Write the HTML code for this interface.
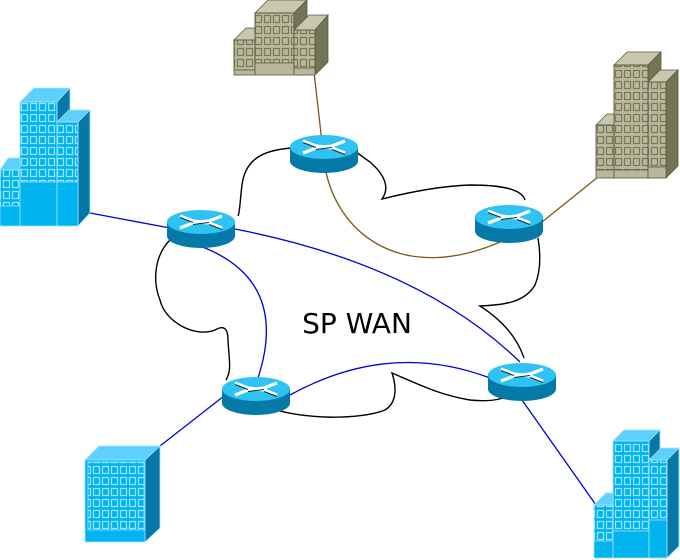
<!DOCTYPE html>
<html><head><style>html,body{margin:0;padding:0;background:#fff}svg{display:block}</style></head>
<body>
<svg width="680" height="560" viewBox="0 0 680 560" xmlns="http://www.w3.org/2000/svg">
<defs>
<pattern id="wb" width="9" height="11" patternUnits="userSpaceOnUse" x="2" y="3">
<rect x="1.5" y="1.5" width="6" height="7" fill="none" stroke="#9fe3ff" stroke-width="1.2"/></pattern>
<pattern id="wg" width="9" height="11" patternUnits="userSpaceOnUse" x="2" y="3">
<rect x="1.5" y="1.5" width="6" height="7" fill="none" stroke="#7a7a5a" stroke-width="1.2"/></pattern>
<g id="rt">
<path d="M-34,0 L-34,14 A34,12 0 0 0 34,14 L34,0 Z" fill="#0579a8"/>
<ellipse cx="0" cy="0" rx="34" ry="12" fill="#2ec3f2"/>
<path d="M-21,-6 L-8,-1 M-21,6 L-8,1 M21,-6 L8,-1 M21,6 L8,1 M-8,-1 L8,1 M-8,1 L8,-1" stroke="#fff" stroke-width="3.2"/>
<path d="M-21,-6 L-8,-1 M21,6 L8,1 M-8,1 L8,-1" stroke="#0a2a40" stroke-width="1" transform="translate(0,1.5)"/>
</g>
</defs>

<path d="M292,148 C262,150 245,160 242,185 C240,200 240,212 238,216 M170,240 C155,255 152,280 160,300 C165,322 195,338 215,330 C222,326 228,326 228,340 C229,360 232,370 226,380 M268,407 C300,420 360,420 385,410 C398,402 396,385 392,373 C420,385 440,395 470,400 C490,402 510,400 515,388 M524,358 C518,340 505,322 480,306 C505,305 525,302 535,285 C542,268 540,250 538,238 M525,200 C522,190 505,185 470,185 C440,186 410,192 382,199 C390,188 385,175 370,162 L356,152"
 fill="none" stroke="#000" stroke-width="1.4"/>

<g fill="none" stroke-width="1.3">
<path d="M90,213 L170,228" stroke="#0000dd"/>
<path d="M235,229 Q420,265 520,362" stroke="#0000dd"/>
<path d="M200,246 Q290,280 258,378" stroke="#0000dd"/>
<path d="M224,396 L160,446" stroke="#0000dd"/>
<path d="M290,395 Q390,340 490,378" stroke="#0000dd"/>
<path d="M522,400 L596,505" stroke="#0000dd"/>
<path d="M314,72 L324,160 C332,230 400,290 509,238" stroke="#7a5a10"/>
<path d="M542,222 L598,177" stroke="#7a5a10"/>
</g>

<use href="#rt" transform="translate(324,147)"/>
<use href="#rt" transform="translate(509,217)"/>
<use href="#rt" transform="translate(201,222)"/>
<use href="#rt" transform="translate(256,389)"/>
<use href="#rt" transform="translate(522,375)"/>

<g stroke="#9fe3ff" stroke-width="0.8">
<polygon points="0,170 8,158 28,158 20,170" fill="#5dd0fb"/>
<rect x="0" y="170" width="20" height="56" fill="#00b4f0"/><rect x="0" y="170" width="20" height="36" fill="url(#wb)"/>
<polygon points="20,102 34,88 70,88 57,102" fill="#5dd0fb"/>
<polygon points="57,102 70,88 70,226 57,226" fill="#0578a8"/>
<rect x="20" y="102" width="37" height="124" fill="#00b4f0"/><rect x="20" y="102" width="37" height="80" fill="url(#wb)"/>
<polygon points="57,122 69,110 90,110 78,122" fill="#5dd0fb"/>
<polygon points="78,122 90,110 90,213 78,226" fill="#0578a8"/>
<rect x="57" y="122" width="21" height="104" fill="#00b4f0"/><rect x="57" y="122" width="21" height="60" fill="url(#wb)"/>
<polygon points="85,460 99,446 160,446 145,460" fill="#5dd0fb"/>
<polygon points="145,460 160,446 160,528 145,542" fill="#0578a8"/>
<rect x="85" y="460" width="60" height="82" fill="#00b4f0"/><rect x="88" y="462" width="56" height="68" fill="url(#wb)"/>
<polygon points="594,505 606,493 620,493 613,505" fill="#5dd0fb"/>
<rect x="594" y="505" width="19" height="53" fill="#00b4f0"/><rect x="594" y="505" width="19" height="36" fill="url(#wb)"/>
<polygon points="613,441 624,430 660,430 649,441" fill="#5dd0fb"/>
<polygon points="649,441 660,430 660,558 649,558" fill="#0578a8"/>
<rect x="613" y="441" width="36" height="117" fill="#00b4f0"/><rect x="613" y="441" width="36" height="90" fill="url(#wb)"/>
<polygon points="649,460 661,448 679,448 667,460" fill="#5dd0fb"/>
<polygon points="667,460 679,448 679,546 667,558" fill="#0578a8"/>
<rect x="649" y="460" width="18" height="98" fill="#00b4f0"/><rect x="649" y="460" width="18" height="60" fill="url(#wb)"/>
</g>

<g stroke="#5a5a40" stroke-width="0.8">
<polygon points="234,40 246,28 262,28 255,40" fill="#c8c8ae"/>
<rect x="234" y="40" width="21" height="35" fill="#b8b89c"/><rect x="234" y="40" width="21" height="30" fill="url(#wg)"/>
<polygon points="255,13 268,0 307,0 294,13" fill="#c8c8ae"/>
<polygon points="294,13 307,0 307,75 294,75" fill="#737356"/>
<rect x="255" y="13" width="39" height="62" fill="#b8b89c"/><rect x="255" y="13" width="39" height="50" fill="url(#wg)"/>
<polygon points="294,30 309,15 328,15 315,30" fill="#c8c8ae"/>
<polygon points="315,30 328,15 328,62 315,75" fill="#737356"/>
<rect x="294" y="30" width="21" height="45" fill="#b8b89c"/><rect x="294" y="30" width="21" height="38" fill="url(#wg)"/>
<polygon points="596,125 607,114 620,114 614,125" fill="#c8c8ae"/>
<rect x="596" y="125" width="18" height="53" fill="#b8b89c"/><rect x="596" y="125" width="18" height="45" fill="url(#wg)"/>
<polygon points="614,65 627,52 661,52 648,65" fill="#c8c8ae"/>
<polygon points="648,65 661,52 661,178 648,178" fill="#737356"/>
<rect x="614" y="65" width="34" height="113" fill="#b8b89c"/><rect x="614" y="65" width="34" height="105" fill="url(#wg)"/>
<polygon points="648,82 660,70 678,70 666,82" fill="#c8c8ae"/>
<polygon points="666,82 678,70 678,166 666,178" fill="#737356"/>
<rect x="648" y="82" width="18" height="96" fill="#b8b89c"/><rect x="648" y="82" width="18" height="85" fill="url(#wg)"/>
</g>

<text x="357" y="333" font-family="'DejaVu Sans','Liberation Sans',sans-serif" font-size="28" text-anchor="middle" fill="#000">SP WAN</text>
</svg>
</body></html>
